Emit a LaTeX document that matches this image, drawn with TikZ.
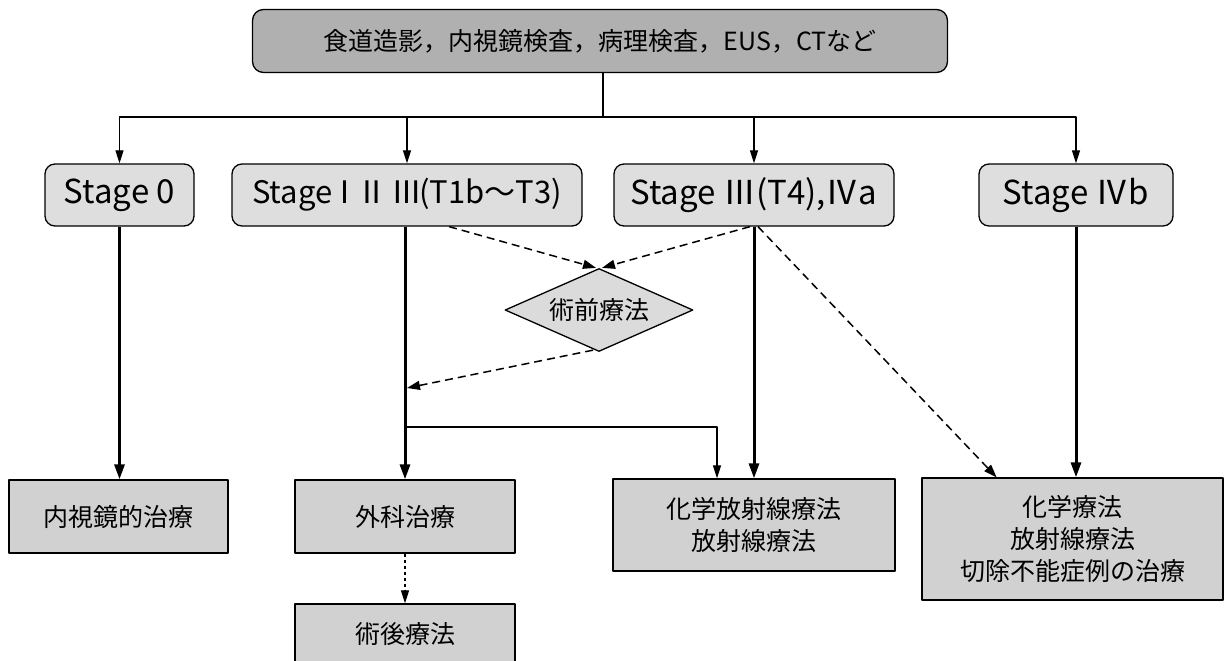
\documentclass[tikz,border=0pt]{standalone}
\usepackage{fontspec}
\setmainfont{Noto Sans CJK JP}
\usetikzlibrary{shapes.geometric,arrows.meta,calc}
\begin{document}
\begin{tikzpicture}[x=1pt,y=-1pt, line join=round,
  base/.style={draw=black, line width=1.3pt, inner sep=0pt, align=center},
  topbox/.style={base, rounded corners=11pt, fill=gray!62, font=\fontsize{25}{32}\selectfont},
  stagebox/.style={base, rounded corners=10pt, fill=gray!26, font=\fontsize{33}{38}\selectfont},
  treatbox/.style={base, fill=gray!36, font=\fontsize{25}{32}\selectfont},
  choicebox/.style={base, shape=diamond, fill=gray!28, font=\fontsize{25}{30}\selectfont},
  thinarrow/.style={line width=1.2pt, -{Triangle[length=13pt,width=8pt]}},
  thickarrow/.style={line width=3pt, -{Triangle[length=15pt,width=10pt]}},
  dasharrow/.style={line width=1.5pt, dash pattern=on 8pt off 5pt, -{Triangle[length=13pt,width=9pt]}},
  dotarrow/.style={line width=1.2pt, dash pattern=on 3pt off 3pt, -{Triangle[length=13pt,width=8pt]}},
]
\fill[white] (0,0) rectangle (1224,661);
\useasboundingbox (0,0) rectangle (1224,661);

\node[topbox, minimum width=695pt, minimum height=63pt] (top) at (600,41) {食道造影，内視鏡検査，病理検査，EUS，CTなど};
\node[stagebox, minimum width=149pt, minimum height=62pt] (s0) at (119.5,195) {Stage 0};
\node[stagebox, minimum width=350pt, minimum height=62pt, font=\fontsize{31}{38}\selectfont] (s1) at (407,195) {Stage\kern-10pt{} Ⅰ\kern-11pt{} Ⅱ\kern-3pt{} Ⅲ\kern-3pt(T1b〜T3)};
\node[stagebox, minimum width=280pt, minimum height=62pt] (s3) at (754,195) {Stage Ⅲ(T4),Ⅳa};
\node[stagebox, minimum width=194pt, minimum height=62pt] (s4) at (1076,195) {Stage Ⅳb};
\node[choicebox, minimum width=188pt, minimum height=83pt, aspect=2.27] (pre) at (599,310) {術前療法};
\node[treatbox, minimum width=219pt, minimum height=73pt] (b0) at (118.5,516.5) {内視鏡的治療};
\node[treatbox, minimum width=220pt, minimum height=73pt] (b1) at (405,516.5) {外科治療};
\node[treatbox, minimum width=220pt, minimum height=60pt] (b2) at (405,634) {術後療法};
\node[treatbox, minimum width=282pt, minimum height=92pt] (b3) at (754,525) {化学放射線療法\\放射線療法};
\node[treatbox, minimum width=301pt, minimum height=122pt] (b4) at (1072.5,539) {化学療法\\放射線療法\\切除不能症例の治療};

\coordinate (hub) at (603,117);
\draw[line width=1.2pt] (top.south -| hub) -- (hub);
\foreach \s in {s0,s1,s3,s4} \draw[thinarrow] (hub) -| (\s.north);

\draw[thickarrow] (s0.south) -- (s0.south |- b0.north);
\draw[thickarrow] (b1.north |- s1.south) -- (b1.north);
\draw[thickarrow] (s3.south) -- (s3.south |- b3.north);
\draw[thickarrow] (s4.south) -- (s4.south |- b4.north);

\coordinate (br) at (405,427);
\coordinate (jn) at (717,427);
\draw[thinarrow] (br) -- (jn) -- (jn |- b3.north);

\draw[dasharrow] ($(s1.south west)!0.62!(s1.south east)$) -- ([xshift=-3pt]pre.north);
\draw[dasharrow] ([xshift=-4pt]s3.south) -- ([xshift=3pt]pre.north);
\coordinate (mj) at (407,388);
\draw[dasharrow] ([xshift=-6pt,yshift=2pt]pre.south) -- (mj);
\draw[dasharrow] ([xshift=4pt]s3.south) -- ($(b4.north west)!0.249!(b4.north east)$);
\draw[dotarrow] (b1.south) -- (b2.north);
\end{tikzpicture}
\end{document}
